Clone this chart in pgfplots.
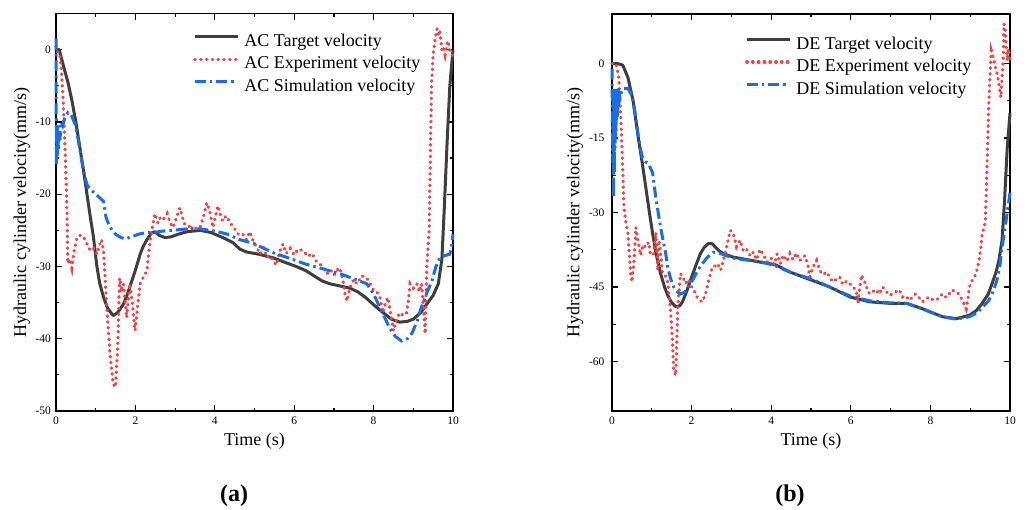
\documentclass[border=0pt]{standalone}
\usepackage{pgfplots}
\pgfplotsset{compat=1.18}
\usepackage{pgfplotstable}
\usepackage{fontspec}
\setmainfont{Liberation Serif}

\definecolor{tgt}{RGB}{62,62,62}
\definecolor{expr}{RGB}{245,65,65}
\definecolor{sim}{RGB}{25,110,232}

\pgfplotstableread{
x y
0 0
0.08 0
0.2 -2.5
0.3 -4.5
0.4 -7
0.5 -10
0.6 -13.5
0.7 -17
0.78 -20
0.86 -23
0.94 -25.8
1.03 -30
1.1 -32.3
1.2 -34.3
1.3 -35.8
1.44 -36.8
1.55 -36.4
1.7 -35.2
1.8 -33.8
1.91 -32
2.0 -30.5
2.12 -28.3
2.2 -27.2
2.29 -26.3
2.4 -25.4
2.49 -25.2
2.6 -25.7
2.75 -26
2.9 -25.9
3.1 -25.5
3.3 -25.2
3.63 -25
3.9 -25.3
4.2 -26
4.46 -26.7
4.63 -27.6
4.8 -28
5.1 -28.3
5.47 -28.8
5.8 -29.5
6.05 -30
6.3 -30.6
6.5 -31.3
6.7 -32
6.9 -32.4
7.15 -32.7
7.4 -33
7.6 -33.5
7.8 -34.3
8.0 -35.3
8.24 -36.4
8.45 -37.3
8.66 -37.7
8.85 -37.6
9.0 -37.3
9.2 -36.3
9.34 -35.2
9.5 -34
9.63 -32.4
9.72 -29
9.78 -22
9.85 -13
9.92 -5
10 0
}\ACtarget

\pgfplotstableread{
x y
0 1.5
0.01 -16
0.02 -11
0.03 -15
0.045 -10.5
0.06 -14
0.08 -11
0.1 -12.5
0.13 -10
0.17 -10.5
0.22 -9.5
0.3 -8.7
0.38 -9
0.48 -10.3
0.56 -12.5
0.65 -15.4
0.72 -17.5
0.79 -18.8
0.9 -19.5
1.0 -20
1.1 -20.5
1.2 -21
1.26 -23.2
1.35 -24.5
1.49 -25.5
1.6 -25.9
1.74 -26.2
1.9 -25.9
2.1 -25.5
2.3 -25.3
2.45 -25.3
2.7 -25.1
2.95 -25
3.3 -24.8
3.63 -24.8
4.0 -25.1
4.3 -25.5
4.63 -26.3
4.97 -26.8
5.2 -27.4
5.47 -28.1
5.9 -28.9
6.3 -29.7
6.7 -30.3
7.15 -31
7.5 -31.7
7.83 -32.4
8.0 -33.8
8.16 -35.7
8.3 -37.3
8.4 -38.5
8.55 -39.7
8.7 -40.3
8.85 -40
8.97 -39.2
9.1 -37.5
9.2 -35.7
9.35 -33.5
9.47 -32
9.57 -30
9.67 -28.8
9.8 -28.5
9.92 -28.3
9.97 -27
10 -25.5
}\ACsim

\pgfplotstableread{
x y
0 0.5
0.05 -0.5
0.1 -0.8
0.14 -3
0.18 -7
0.23 -14
0.27 -21
0.3 -29.6
0.35 -29
0.4 -30.2
0.45 -28
0.53 -26
0.6 -25.7
0.68 -25.8
0.75 -26.5
0.86 -27.8
0.95 -27.5
1.03 -28.3
1.1 -27
1.15 -26.3
1.2 -28
1.28 -35.7
1.36 -42
1.44 -46.3
1.5 -46.7
1.56 -40.3
1.6 -31.6
1.65 -33
1.7 -32.4
1.78 -37.1
1.86 -32.4
1.92 -34.8
1.99 -38.9
2.07 -34.8
2.12 -32.4
2.2 -31.5
2.29 -30.6
2.37 -26.5
2.43 -24.5
2.49 -22.7
2.57 -24
2.63 -23.2
2.7 -23.5
2.8 -22.7
2.88 -24
2.95 -24.6
3.05 -23
3.12 -21.9
3.2 -23.5
3.3 -25
3.38 -24.2
3.46 -25
3.55 -24.6
3.63 -24.6
3.72 -23
3.8 -21.2
3.88 -22.5
3.95 -24.6
4.02 -23
4.08 -21.6
4.14 -22.8
4.2 -23.7
4.28 -23
4.37 -23.7
4.45 -24.5
4.53 -25
4.6 -25.6
4.7 -25.5
4.8 -26.3
4.88 -25.2
4.97 -26.5
5.05 -27.3
5.14 -28.3
5.22 -27
5.3 -28.7
5.4 -28.5
5.47 -29.2
5.55 -29.8
5.63 -28
5.72 -26.9
5.8 -28.2
5.9 -27.5
6.0 -28.4
6.1 -27.6
6.22 -27.8
6.35 -28.6
6.45 -28.2
6.55 -29.2
6.65 -29.7
6.75 -30.2
6.83 -31
6.92 -30.5
7.0 -31.2
7.08 -30.5
7.15 -30.2
7.23 -32
7.28 -33.8
7.33 -34.8
7.4 -33
7.5 -31.8
7.58 -32.4
7.7 -31.3
7.83 -31.6
7.92 -32.5
8.0 -33.3
8.08 -33.5
8.16 -34.3
8.24 -36.4
8.3 -35
8.36 -34.3
8.43 -36.5
8.5 -38.9
8.58 -37.3
8.66 -36.4
8.75 -36.8
8.83 -36.4
8.88 -34.5
8.92 -32.4
9.0 -33
9.09 -32.4
9.15 -33.5
9.21 -32.4
9.26 -36
9.3 -39.3
9.34 -30
9.4 -25
9.43 -15
9.46 -5
9.5 -0.6
9.55 1.5
9.6 2.9
9.64 2
9.67 2.5
9.7 1
9.72 -0.1
9.76 0.3
9.8 -0.7
9.84 0.5
9.87 1.2
9.9 0.5
9.92 -0.1
9.96 -0.5
10 -1
}\ACexp

\pgfplotstableread{
x y
0 0
0.15 0
0.27 -0.3
0.4 -2.8
0.53 -7.5
0.67 -15.5
0.76 -20
0.85 -25
0.94 -30
1.02 -34.2
1.1 -38
1.22 -42.3
1.32 -45
1.4 -46.7
1.5 -48.2
1.6 -49
1.7 -48.8
1.77 -48
1.87 -46
1.97 -43.7
2.1 -40.8
2.22 -38.3
2.32 -37
2.43 -36.2
2.52 -36.3
2.6 -37
2.7 -37.8
2.8 -38.3
3.05 -39
3.4 -39.5
3.72 -40
4.1 -40.5
4.47 -42
4.97 -43.5
5.47 -45
5.97 -47
6.47 -48
6.97 -48.3
7.4 -48.3
7.8 -49.4
8.3 -51
8.65 -51.4
8.98 -50.7
9.15 -49.8
9.3 -48.3
9.45 -46.5
9.55 -44.3
9.65 -42
9.72 -39.7
9.8 -35.6
9.86 -28
9.93 -17
10 -10
}\DEtarget

\pgfplotstableread{
x y
0 -1
0.02 -20
0.03 -5
0.04 -27
0.05 -8
0.06 -22
0.07 -6
0.08 -17
0.09 -5
0.1 -14
0.12 -6
0.14 -11
0.16 -5
0.2 -7
0.25 -5.3
0.3 -5
0.4 -5
0.47 -6
0.53 -7.5
0.6 -11
0.65 -14
0.71 -17
0.77 -19
0.85 -19.8
0.92 -20.2
1.02 -22
1.1 -27
1.16 -30
1.22 -33
1.35 -38.3
1.4 -41
1.47 -43.3
1.55 -45
1.64 -46
1.72 -46.4
1.82 -46.1
1.92 -45
2.05 -43.3
2.15 -41.7
2.28 -40.2
2.4 -39
2.55 -38
2.7 -38.2
2.8 -38.5
3.05 -39.2
3.4 -39.6
3.72 -39.9
4.1 -40.7
4.47 -42
4.97 -43.3
5.47 -45
5.97 -46.8
6.47 -47.8
6.97 -48.2
7.4 -48.3
7.8 -49.4
8.3 -51
8.65 -51.5
8.98 -51
9.15 -50.3
9.3 -49.2
9.47 -47.7
9.57 -46
9.67 -43.7
9.75 -40.5
9.8 -37
9.87 -33.5
9.93 -30
10 -26
}\DEsim

\pgfplotstableread{
x y
0 0
0.1 0
0.17 -2.8
0.22 -10.9
0.27 -21
0.3 -29
0.35 -32
0.4 -34.2
0.43 -38
0.47 -42.3
0.5 -44
0.55 -40
0.6 -33
0.65 -35.6
0.72 -38.6
0.78 -36.5
0.85 -37
0.92 -36
0.97 -38.6
1.05 -38.3
1.1 -34
1.15 -41.7
1.18 -35.6
1.22 -38
1.27 -42.3
1.34 -42.8
1.4 -44
1.47 -49.7
1.52 -55.8
1.55 -61.8
1.6 -62.8
1.63 -55.8
1.65 -49.4
1.72 -42.3
1.78 -43
1.85 -44.3
1.92 -43.5
2.0 -45
2.08 -46
2.15 -47.3
2.22 -47.8
2.27 -48
2.35 -46.4
2.43 -43.7
2.52 -41
2.58 -40.8
2.65 -40.3
2.73 -41.6
2.82 -39
2.9 -36.2
2.97 -33.6
3.05 -34.2
3.13 -36.9
3.22 -35.6
3.3 -37.8
3.38 -37.4
3.48 -38.8
3.55 -38
3.63 -39.5
3.72 -37.4
3.8 -38.5
3.9 -40
4.0 -39.2
4.08 -40.5
4.15 -38.3
4.23 -40.3
4.3 -38.6
4.4 -39.8
4.47 -38.3
4.55 -39.5
4.63 -38.2
4.72 -39.7
4.8 -39
4.85 -38.7
4.92 -40.5
4.97 -43
5.05 -41
5.14 -39.7
5.22 -41.7
5.3 -42.5
5.4 -42
5.47 -43
5.55 -44
5.63 -43.5
5.72 -43
5.8 -44.5
5.9 -43.8
5.97 -44.3
6.05 -45
6.13 -45.6
6.18 -48.3
6.22 -45.5
6.27 -42.6
6.35 -44
6.42 -45.5
6.47 -46.4
6.55 -46
6.62 -45.5
6.72 -46.4
6.8 -45
6.88 -45.8
6.97 -46.7
7.05 -46.4
7.13 -46
7.22 -45.6
7.3 -47
7.38 -46.8
7.47 -47.7
7.55 -47
7.63 -46.4
7.72 -47.2
7.8 -48
7.88 -47.5
7.97 -47
8.05 -47.5
8.13 -47.7
8.22 -47.2
8.3 -46.4
8.37 -47
8.43 -47
8.5 -46
8.55 -45.6
8.63 -46
8.72 -46.4
8.8 -47.7
8.85 -48.5
8.9 -49.4
8.95 -47
8.98 -45
9.05 -43.7
9.1 -43
9.15 -42.3
9.22 -39.7
9.27 -37
9.3 -34.2
9.35 -33
9.38 -31.6
9.4 -27
9.42 -21
9.45 -13
9.47 -7.5
9.5 -2
9.53 2.6
9.57 1.5
9.6 0.6
9.64 -1
9.68 -2.1
9.72 -4
9.77 -6.8
9.8 -3
9.82 -0.8
9.84 4
9.85 8
9.88 6.7
9.9 4
9.93 0.6
9.96 3
10 1
}\DEexp

\pgfplotsset{
  myaxis/.style={
    scale only axis,
    xmin=0, xmax=10,
    xtick={0,2,4,6,8,10},
    minor x tick num=1,
    minor y tick num=1,
    tick align=inside,
    xtick pos=both, ytick pos=both,
    xticklabel pos=lower, yticklabel pos=left,
    major tick length=6pt, minor tick length=3.5pt,
    every tick/.style={black, line width=1.2pt},
    axis line style={line width=1.8pt},
    /pgf/number format/assume math mode=true,
    tick label style={font=\fontsize{11.5}{13}\selectfont},
    xticklabel style={yshift=-2pt},
    label style={font=\fontsize{18}{20}\selectfont},
    xlabel={Time (s)},
    ylabel={Hydraulic cylinder velocity(mm/s)},
    xlabel style={at={(axis description cs:0.5,-0.075)}, anchor=center},
    legend cell align=left,
    legend image code/.code={\draw[##1] (0pt,5pt) -- (43pt,5pt);},
    legend style={draw=none, fill=none, anchor=north west,
      font=\fontsize{18}{20}\selectfont,
      inner xsep=0pt, inner ysep=0pt, row sep=5.5pt, column sep=5pt,
      nodes={inner sep=0pt, text height=13pt, text depth=4pt}},
    clip=false,
  },
}

\begin{document}
\begin{tikzpicture}[x=1pt,y=1pt]
\useasboundingbox (0,0) rectangle (1027,509);
\begin{axis}[myaxis,
  at={(56pt,98pt)}, anchor=south west,
  width=397pt, height=397.5pt,
  ymin=-50, ymax=5,
  ytick={0,-10,-20,-30,-40,-50},
  ylabel style={at={(axis description cs:-0.086,0.5)}, anchor=center},
  yticklabel style={xshift=-1.5pt},
  legend style={at={(axis description cs:0.345,0.951)}},
]
\addplot[color=tgt, line width=3pt, line join=round] table[x=x,y=y] {\ACtarget};
\addlegendentry{AC Target velocity}
\addplot[color=expr, line width=3.2pt, line cap=round, dash pattern=on 0.6pt off 5.2pt] table[x=x,y=y] {\ACexp};
\addlegendentry{AC Experiment velocity}
\addplot[color=sim, line width=3pt, dash pattern=on 11pt off 4pt on 2.5pt off 4pt] table[x=x,y=y] {\ACsim};
\addlegendentry{AC Simulation velocity}
\end{axis}

\begin{axis}[myaxis,
  at={(612pt,98pt)}, anchor=south west,
  width=398pt, height=397pt,
  ymin=-70, ymax=10,
  ytick={0,-15,-30,-45,-60},
  ylabel style={at={(axis description cs:-0.093,0.5)}, anchor=center},
  yticklabel style={xshift=-4pt},
  legend style={at={(axis description cs:0.334,0.945)}},
]
\addplot[color=tgt, line width=3pt, line join=round] table[x=x,y=y] {\DEtarget};
\addlegendentry{DE Target velocity}
\addplot[color=expr, line width=3.2pt, line cap=round, dash pattern=on 0.6pt off 5.2pt] table[x=x,y=y] {\DEexp};
\addlegendentry{DE Experiment velocity}
\addplot[color=sim, line width=3pt, dash pattern=on 11pt off 4pt on 2.5pt off 4pt] table[x=x,y=y] {\DEsim};
\addlegendentry{DE Simulation velocity}
\end{axis}

\node[font=\fontsize{24}{26}\selectfont\bfseries] at (234,13) {(a)};
\node[font=\fontsize{24}{26}\selectfont\bfseries] at (790,13) {(b)};
\end{tikzpicture}
\end{document}
